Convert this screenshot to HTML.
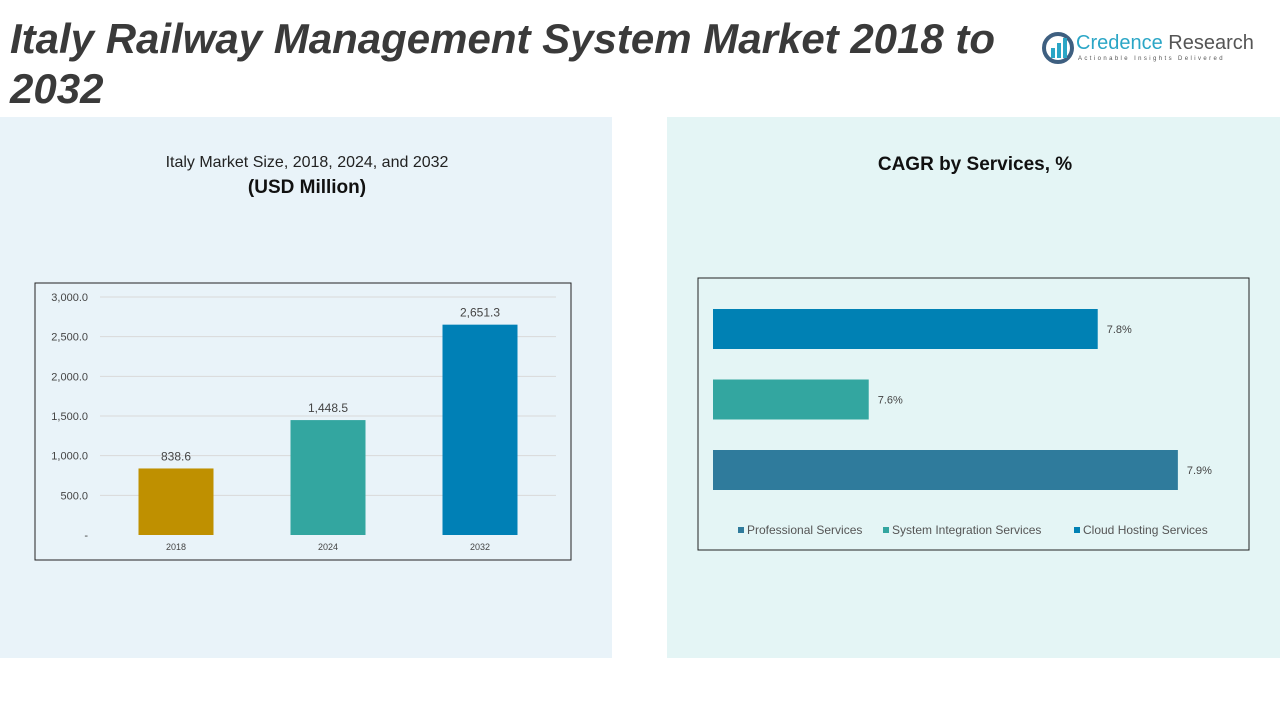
<!DOCTYPE html>
<html><head><meta charset="utf-8"><style>
body{margin:0;width:1280px;height:720px;background:#fff;position:relative;overflow:hidden;font-family:"Liberation Sans",sans-serif}
.abs{position:absolute}
</style></head><body>
<div class="abs" style="left:0;top:117px;width:612px;height:541px;background:#E9F3F9"></div>
<div class="abs" style="left:667px;top:117px;width:613px;height:541px;background:#E4F5F5"></div>
<div class="abs" style="left:10px;top:14px;width:1045px;font-size:42px;line-height:50px;font-weight:bold;font-style:italic;color:#3A3A3A">Italy Railway Management System Market 2018 to 2032</div>
<div class="abs" style="left:1040px;top:30px;width:220px;height:40px">
<svg width="36" height="36" class="abs" style="left:0;top:0"><circle cx="18" cy="18" r="14" fill="none" stroke="#3E5F80" stroke-width="4"/><rect x="11" y="18" width="4" height="10" fill="#2BA6C6"/><rect x="17" y="13" width="4" height="15" fill="#2BA6C6"/><rect x="23" y="8" width="4" height="20" fill="#2BA6C6"/></svg>
<div class="abs" style="left:36px;top:2px;font-size:20px;color:#2BA6C6;white-space:nowrap">Credence <span style="color:#555">Research</span></div>
<div class="abs" style="left:38px;top:26px;font-size:6px;letter-spacing:2.4px;color:#555;white-space:nowrap">Actionable Insights Delivered</div>
</div>
<div class="abs" style="left:80px;top:154px;width:454px;text-align:center;font-size:16px;color:#222">Italy Market Size, 2018, 2024, and 2032</div>
<div class="abs" style="left:80px;top:177px;width:454px;text-align:center;font-size:19px;font-weight:bold;color:#111">(USD Million)</div>
<div class="abs" style="left:800px;top:154px;width:350px;text-align:center;font-size:19px;font-weight:bold;color:#111">CAGR by Services, %</div>
<svg class="abs" style="left:0;top:0" width="1280" height="720" id="svg"></svg>
<script>
const years=["2018","2024","2032"];
const sizes=[838.6,1448.5,2651.3];
const yTicks=[0,500,1000,1500,2000,2500,3000];
const services=["Cloud Hosting Services","System Integration Services","Professional Services"];
const cagr=[7.82,7.62,7.89];
const legendOrder=["Professional Services","System Integration Services","Cloud Hosting Services"];
const svg=document.getElementById('svg');const NS='http://www.w3.org/2000/svg';
function mk(t,a,txt){const e=document.createElementNS(NS,t);for(const k in a)e.setAttribute(k,a[k]);if(txt!==undefined)e.textContent=txt;svg.appendChild(e);return e;}
let e;
e=mk('rect',{x:35,y:283,width:536,height:277,fill:'none',stroke:'#222','stroke-width':1});


const y=v=>535-v*(238/3000);
yTicks.forEach(t=>{
 if(t>0){e=mk('line',{x1:100,x2:556,y1:y(t),y2:y(t),stroke:'#D9D9D9'});
 
 }
 e=mk('text',{x:88,y:y(t)+4,'text-anchor':'end','font-size':11,fill:'#444'},t===0?'-':t.toLocaleString('en-US',{minimumFractionDigits:1}));
 
 
});
const cols=['#BF9000','#33A6A0','#0080B6'];
const xc=i=>176+i*152;
years.forEach((yr,i)=>{
 e=mk('rect',{x:xc(i)-37.5,y:y(sizes[i]),width:75,height:535-y(sizes[i]),fill:cols[i]});
 
 
 e=mk('text',{x:xc(i),y:y(sizes[i])-8,'text-anchor':'middle','font-size':12,fill:'#444'},sizes[i].toLocaleString('en-US',{minimumFractionDigits:1}));
 
 
 e=mk('text',{x:xc(i),y:550,'text-anchor':'middle','font-size':9,fill:'#444'},yr);
 
 
});
e=mk('rect',{x:698,y:278,width:551,height:272,fill:'none',stroke:'#222'});


const sx=v=>(v-7.484)*1145;
const hcols={"Cloud Hosting Services":'#0081B4',"System Integration Services":'#33A6A0',"Professional Services":'#2F7B9C'};
services.forEach((s,i)=>{
 const yy=309+i*70.5;
 e=mk('rect',{x:713,y:yy,width:sx(cagr[i]),height:40,fill:hcols[s]});
 
 
 e=mk('text',{x:713+sx(cagr[i])+9,y:yy+24,'font-size':11,fill:'#444'},cagr[i].toFixed(1)+'%');
 
 
});
const lx=[738,883,1074];
legendOrder.forEach((s,i)=>{
 e=mk('rect',{x:lx[i],y:527,width:6,height:6,fill:hcols[s]});
 
 
 e=mk('text',{x:lx[i]+9,y:534,'font-size':12,fill:'#555'},s);
 
 
});
</script>
</body></html>
